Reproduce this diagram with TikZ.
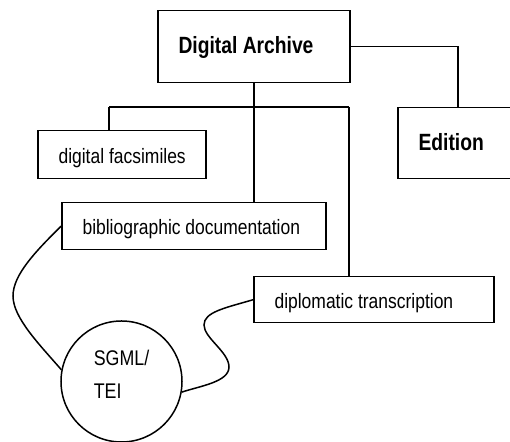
\documentclass[tikz,border=0pt]{standalone}
\usepackage{fontspec}
\setmainfont{Liberation Sans}[FakeStretch=0.84]
\newfontfamily\boldfam{Liberation Sans}[FakeStretch=0.82]
\newcommand{\bxt}[2]{\makebox[#1][l]{\hspace{10.4pt}#2}}
\begin{document}
\begin{tikzpicture}[x=0.5pt,y=-0.5pt, line width=0.75pt,
  boxbase/.style={draw, rectangle, inner sep=0pt, anchor=north west},
  regbox/.style={boxbase, font=\fontsize{10.4pt}{12pt}\selectfont, text height=8.7pt, text depth=0pt},
  archbox/.style={boxbase, font=\boldfam\bfseries\fontsize{11.75pt}{13pt}\selectfont, text height=7pt, text depth=0pt},
  sgmlcirc/.style={draw, circle, inner sep=0pt, align=left, font=\fontsize{10.6pt}{16.35pt}\selectfont}
]
\useasboundingbox (0,0) rectangle (510,442);
\node[archbox, minimum width=96pt, minimum height=36pt] (da) at (157,10) {\bxt{96pt}{Digital Archive}};
\node[archbox, minimum width=60pt, minimum height=35.5pt] (ed) at (397,107) {\bxt{60pt}{Edition}};
\node[regbox, minimum width=84pt, minimum height=24pt] (fac) at (37,130) {\bxt{84pt}{digital facsimiles}};
\node[regbox, minimum width=132pt, minimum height=23.5pt] (bib) at (61,202) {\bxt{132pt}{bibliographic documentation}};
\node[regbox, minimum width=120pt, minimum height=23pt] (dip) at (253,276) {\bxt{120pt}{diplomatic transcription}};
\node[sgmlcirc, minimum size=60.5pt] (sgml) at (121.5,381.5) {SGML/\\TEI\rule[-7pt]{0pt}{0pt}};
\coordinate (busL) at (109,107);
\coordinate (busR) at (349,107);
\draw (da.south) -- (da.south |- bib.north);
\draw (busL) -- (busR);
\draw (busL) -- (busL |- fac.north);
\draw (busR) -- (busR |- dip.north);
\draw (da.east) -| (ed.north);
\draw (bib.west) .. controls (35,252) and (13,275) .. (13,296) .. controls (13,318) and (40,345) .. (sgml.169);
\draw (dip.west) .. controls (225,308) and (204,312) .. (204,325) .. controls (204,338) and (229,352) .. (229,367) .. controls (229,382) and (200,386) .. (sgml.350);
\end{tikzpicture}
\end{document}
